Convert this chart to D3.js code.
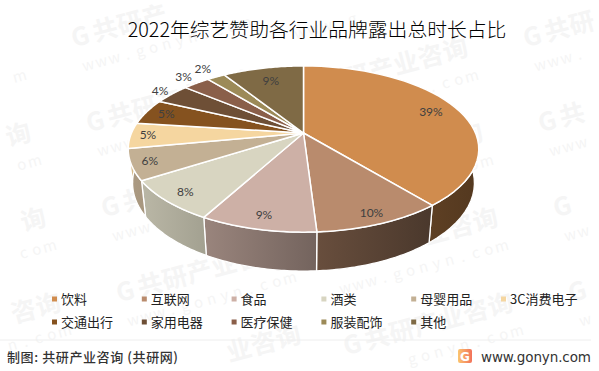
<!DOCTYPE html>
<html>
<head>
<meta charset="utf-8">
<script src="https://cdn.jsdelivr.net/npm/d3@7"></script>
<style>
  body { margin: 0; background: #fff; }
  svg { display: block; }
  text { font-family: "Noto Sans CJK SC", sans-serif; }
</style>
</head>
<body>
<div id="chart"></div>
<script>
// share of brand exposure time by industry
const categories = ['饮料', '互联网', '食品', '酒类', '母婴用品', '3C消费电子', '交通出行', '家用电器', '医疗保健', '服装配饰', '其他'];
const values = [39, 10, 9, 8, 6, 5, 5, 4, 3, 2, 9];
const colors = ['#d08c4e', '#b98b6d', '#cdb0a6', '#d8d5c1', '#c3b094', '#f5d6a0', '#85521f', '#6e4f36', '#8a5f4a', '#9c8a58', '#7f6a45'];
// how far out along its slice each label sits, 1 = on the rim
const labelRadius = [0.83, 0.9, 0.88, 0.88, 0.9, 0.9, 0.87, 1.1, 1.14, 1.18, 0.78];

const width = 599, height = 371;
const svg = d3.select('#chart').append('svg').attr('width', width).attr('height', height);
const defs = svg.append('defs');

// watermark, staggered columns. letters that would fall off the page are skipped
const wm = svg.append('g');
const wmAngle = -15 * Math.PI / 180;
function wmChar(x0, y0, dx, dy, ch, size, weight) {
    const px = x0 + dx * Math.cos(wmAngle) - dy * Math.sin(wmAngle);
    const py = y0 + dx * Math.sin(wmAngle) + dy * Math.cos(wmAngle);
    if (px < 12 || px > width - 12 || py < 24 || py > height - 6) return;
    wm.append('text').attr('transform', `translate(${px},${py}) rotate(-15)`)
        .attr('text-anchor', 'middle').attr('font-size', size).attr('font-weight', weight)
        .attr('fill', '#f5f5f5').text(ch);
}
function wmTile(x0, y0) {
    Array.from('G共研产业咨询').forEach((ch, i) => wmChar(x0, y0, 8 + i * 25.5, 0, ch, 25, 700));
    Array.from('www.gonyn.com').forEach((ch, i) => wmChar(x0, y0, 8 + i * 13.5, 26, ch, 15, 400));
}
d3.range(-1, 5).forEach(r => {
    wmTile(-150 + 15 * r, 100 + 85 * r);
    wmTile(302 + 15 * r, 100 + 85 * r);
    wmTile(75 + 15 * r, 47 + 85 * r);
    wmTile(527 + 15 * r, 47 + 85 * r);
});

// title
svg.append('text').attr('x', 317).attr('y', 37).attr('text-anchor', 'middle')
    .attr('font-size', 19.8).attr('font-weight', 300).attr('fill', '#000').text('2022年综艺赞助各行业品牌露出总时长占比');

// pie angles, clockwise from 12 o'clock
const arcs = d3.pie().sort(null).value(d => d)(values);

// tilted disc: unit circle through a perspective divide
const apex = { x: 303.5, y: 133 };
const A = 172, B = 80, k = 0.193;
function project(a, r) {
    const u = r * Math.sin(a), v = -r * Math.cos(a);
    const w = 1 - k * v;
    return [A * u / w, B * v / w];
}
const topPoint = (a, r) => {
    const p = project(a, r);
    return [apex.x + p[0], apex.y + p[1]];
};
// lower rim of the wall, a bit narrower and further down
const bottomPoint = a => {
    const p = project(a, 1);
    return [apex.x + p[0] * 0.975, apex.y + p[1] * 1.06 + 33];
};
const steps = (a0, a1) => d3.range(0, 41).map(i => a0 + (a1 - a0) * i / 40);
const line = d3.line();

// wall gets darker going right
const shade = x => Math.max(0.4, 1.1 - 0.0017 * x);
function tinted(c, f) {
    const col = d3.rgb(c);
    return d3.rgb(col.r * f, col.g * f, col.b * f).formatHex();
}

const walls = svg.append('g');
arcs.forEach((d, i) => {
    const ts = steps(d.startAngle, d.endAngle);
    const up = ts.map(a => topPoint(a, 1));
    const down = ts.map(bottomPoint).reverse();
    const xs = up.map(p => p[0]);
    const x0 = d3.min(xs), x1 = d3.max(xs);
    const grad = defs.append('linearGradient').attr('id', 'wall' + i)
        .attr('gradientUnits', 'userSpaceOnUse')
        .attr('x1', x0).attr('x2', x1 + 1).attr('y1', 0).attr('y2', 0);
    grad.append('stop').attr('offset', 0).attr('stop-color', tinted(colors[i], shade(x0)));
    grad.append('stop').attr('offset', 1).attr('stop-color', tinted(colors[i], shade(x1)));
    walls.append('path').attr('d', line(up.concat(down)) + 'Z')
        .attr('fill', `url(#wall${i})`).attr('stroke', '#fff').attr('stroke-width', 1.3);
});

// top face
const faces = svg.append('g');
arcs.forEach((d, i) => {
    const pts = [[apex.x, apex.y]].concat(steps(d.startAngle, d.endAngle).map(a => topPoint(a, 1)));
    faces.append('path').attr('d', line(pts) + 'Z')
        .attr('fill', colors[i]).attr('stroke', '#fff').attr('stroke-width', 1.5).attr('stroke-linejoin', 'round');
});

// percent labels
arcs.forEach((d, i) => {
    const p = topPoint((d.startAngle + d.endAngle) / 2, labelRadius[i]);
    svg.append('text').attr('x', p[0]).attr('y', p[1] + 4).attr('text-anchor', 'middle')
        .attr('font-size', 12).attr('fill', '#404040')
        .style('font-family', 'Lato').text(values[i] + '%');
});

// legend, two rows of six
const legendX = d3.scalePoint().domain(d3.range(6)).range([52, 501]);
const legend = svg.append('g');
categories.forEach((c, i) => {
    const col = i % 6, row = Math.floor(i / 6);
    const g = legend.append('g').attr('transform', `translate(${legendX(col)},${299 + row * 23})`);
    g.append('rect').attr('y', -2.5).attr('width', 5).attr('height', 5).attr('fill', colors[i]);
    g.append('text').attr('x', 9).attr('y', 5).attr('font-size', 13).attr('fill', '#222').text(c);
});

// footer
svg.append('line').attr('x1', 0).attr('x2', 591).attr('y1', 340).attr('y2', 340).attr('stroke', '#eee');
svg.append('text').attr('x', 7).attr('y', 362).attr('font-size', 13).attr('font-weight', 500).attr('fill', '#333')
    .attr('textLength', 171).text('制图: 共研产业咨询 (共研网)');
svg.append('text').attr('x', 481).attr('y', 362).attr('font-size', 13.5).attr('fill', '#333')
    .style('font-family', 'DejaVu Sans').attr('textLength', 110).text('www.gonyn.com');
const logoGrad = defs.append('linearGradient').attr('id', 'logo');
logoGrad.append('stop').attr('offset', 0).attr('stop-color', '#fbc56f');
logoGrad.append('stop').attr('offset', 1).attr('stop-color', '#f2725a');
svg.append('rect').attr('x', 458).attr('y', 349).attr('width', 14).attr('height', 14).attr('rx', 2).attr('fill', 'url(#logo)');
svg.append('text').attr('x', 465).attr('y', 361).attr('text-anchor', 'middle').attr('font-size', 12).attr('font-weight', 700)
    .attr('fill', '#fff').style('font-family', 'DejaVu Sans').text('G');
</script>
</body>
</html>
